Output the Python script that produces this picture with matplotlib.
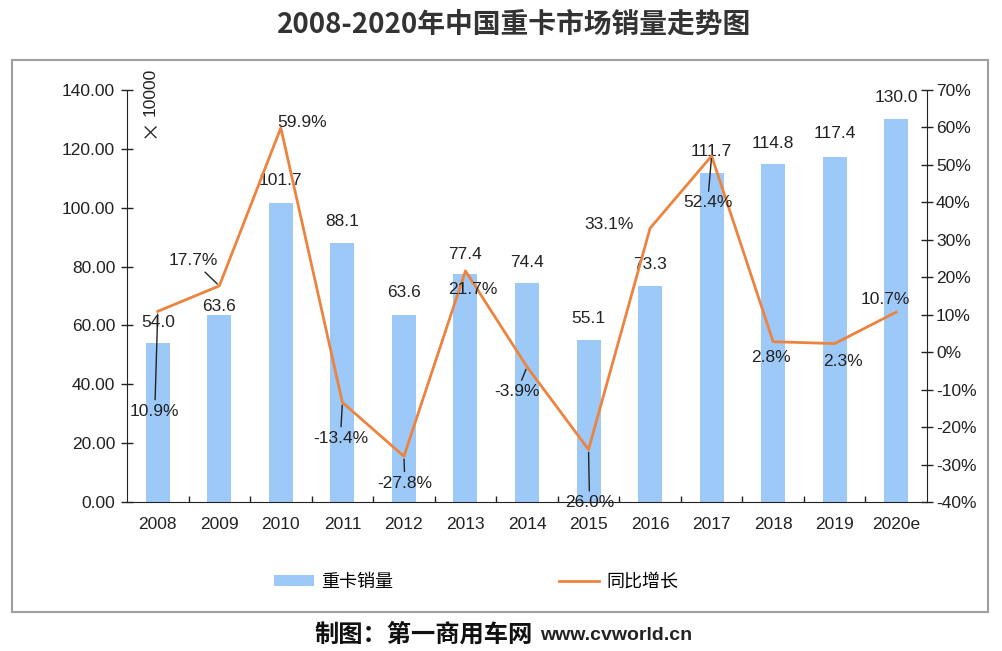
import matplotlib
matplotlib.use("Agg")
import matplotlib.pyplot as plt
from matplotlib.patches import Rectangle, Patch
from matplotlib.lines import Line2D

plt.rcParams['font.family'] = ['Liberation Sans', 'Noto Sans CJK SC', 'DejaVu Sans']

# data
years = ['2008', '2009', '2010', '2011', '2012', '2013', '2014',
         '2015', '2016', '2017', '2018', '2019', '2020e']
sales = [54.0, 63.6, 101.7, 88.1, 63.6, 77.4, 74.4, 55.1, 73.3, 111.7, 114.8, 117.4, 130.0]
growth = [10.9, 17.7, 59.9, -13.4, -27.8, 21.7, -3.9, -26.0, 33.1, 52.4, 2.8, 2.3, 10.7]
growth_labels = ['10.9%', '17.7%', '59.9%', '-13.4%', '-27.8%', '21.7%', '-3.9%',
                 '26.0%', '33.1%', '52.4%', '2.8%', '2.3%', '10.7%']

# label placement (pixels from the mark)
bar_lbl_dy = [21, 8, 22, 21, 22, 20, 21, 21, 22, 22, 21, 23, 22]
pct_off = [(-3, -100), (-26, 25), (21, 5), (-2, -36), (1, -27), (7, -19), (-10, -25),
           (1, -53), (-41, 4), (-4, -47), (-2, -16), (8, -18), (-11, 13)]
pct_leader = [True, True, False, True, True, False, True,
              True, False, True, False, False, False]

W, H = 1003, 651
fig = plt.figure(figsize=(W / 100, H / 100), dpi=100)
fig.patch.set_facecolor('white')

L, R, B, T = 127, 927, 502, 90
ax = fig.add_axes([L / W, 1 - B / H, (R - L) / W, (B - T) / H])
ax2 = ax.twinx()

txt = '#222222'
blue = '#9DC9F8'
orange = '#EC8440'

x = list(range(len(years)))
ax.bar(x, sales, width=0.39, color=blue, zorder=2)
ax.set_xlim(-0.5, len(years) - 0.5)
ax.set_ylim(0, 140)
ax.set_yticks(range(0, 141, 20))
ax.set_yticklabels(['%.2f' % v for v in range(0, 141, 20)])
ax.set_xticks(x)
ax.set_xticklabels(years)
ax.set_xticks([i + 0.5 for i in x[:-1]], minor=True)
ax.tick_params(axis='x', which='major', length=0, pad=11, labelsize=12.5, labelcolor=txt)
ax.tick_params(axis='x', which='minor', direction='in', length=4, width=1, color='#222')
ax.tick_params(axis='y', direction='inout', length=9, width=1, pad=4, labelsize=12.5,
               labelcolor=txt, color='#222')
for s in ['top', 'right']:
    ax.spines[s].set_visible(False)
ax.spines['left'].set_color('#222')
ax.spines['bottom'].set_color('#222')

for i, v in enumerate(sales):
    ax.annotate('%.1f' % v, (i, v), xytext=(0, bar_lbl_dy[i]), textcoords='offset pixels',
                ha='center', va='center', fontsize=12.5, color=txt)

ax2.plot(x, growth, color=orange, lw=2, zorder=3)
ax2.set_ylim(-40, 70)
ax2.set_yticks(range(-40, 71, 10))
ax2.set_yticklabels(['%d%%' % v for v in range(-40, 71, 10)])
ax2.tick_params(axis='y', direction='inout', length=9, width=1, pad=2, labelsize=12.5,
                labelcolor=txt, color='#222')
for s in ['top', 'left', 'bottom']:
    ax2.spines[s].set_visible(False)
ax2.spines['right'].set_color('#222')

for i, v in enumerate(growth):
    props = None
    if pct_leader[i]:
        props = dict(arrowstyle='-', color='#222', lw=1, shrinkA=1, shrinkB=2)
    ax2.annotate(growth_labels[i], (i, v), xytext=pct_off[i], textcoords='offset pixels',
                 ha='center', va='center', fontsize=12.5, color=txt, arrowprops=props)

# unit label, rotated
fig.text(150 / W, 1 - 92 / H, '10000', rotation=90, ha='center', va='center',
         fontsize=12.5, color=txt)
fig.text(150 / W, 1 - 128 / H, '×', rotation=90, ha='center', va='center',
         fontsize=14, color=txt, family=['Noto Sans CJK SC'])

# legend
handles = [Patch(facecolor=blue, edgecolor='none'), Line2D([], [], color=orange, lw=2)]
fig.legend(handles, ['重卡销量', '同比增长'], loc='center', ncol=2,
           bbox_to_anchor=(476 / W, 1 - 582 / H), frameon=False,
           prop={'family': ['Noto Sans CJK SC'], 'size': 13},
           handlelength=2.2, handleheight=0.6, handletextpad=0.4, columnspacing=9.2)

# outer frame
fig.patches.append(Rectangle((12 / W, 1 - 612 / H), 976 / W, 552 / H,
                             transform=fig.transFigure, fill=False,
                             edgecolor='#A0A0A0', lw=1.5))

fig.text(514 / W, 1 - 25 / H, '2008-2020年中国重卡市场销量走势图', ha='center', va='center',
         fontsize=20, fontweight='bold', color='#333333',
         family=['Noto Sans CJK SC'])
fig.text(533 / W, 1 - 635 / H, '制图：第一商用车网', ha='right', va='center',
         fontsize=17.5, fontweight='heavy', color='#111111', family=['Noto Sans CJK SC'])
fig.text(540 / W, 1 - 636 / H, 'www.cvworld.cn', ha='left', va='center',
         fontsize=14, fontweight='bold', color='#222222')

fig.savefig('out.png', dpi=100)
